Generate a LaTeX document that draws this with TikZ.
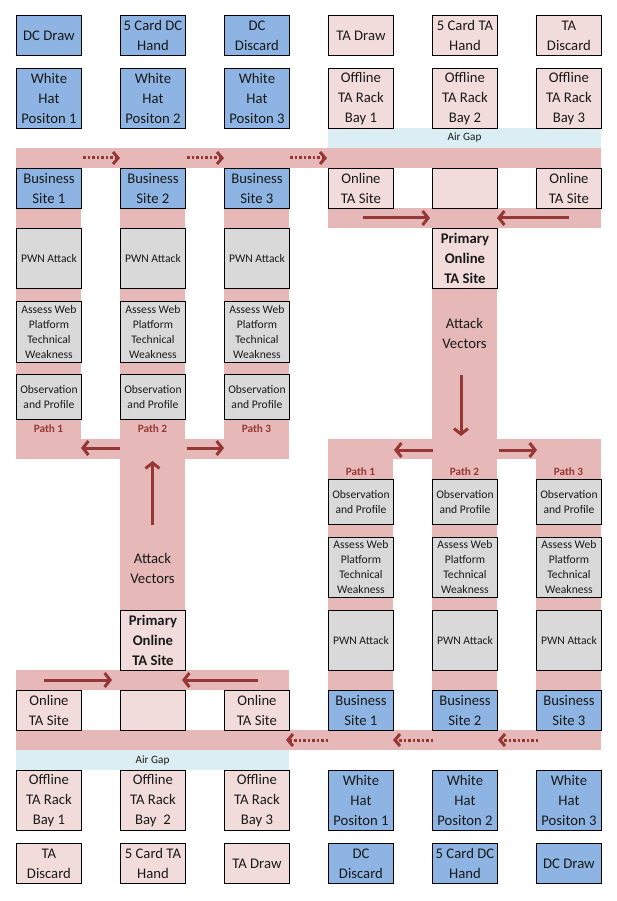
\documentclass[tikz,border=0pt]{standalone}
\usepackage{fontspec}
\setmainfont{Carlito}
\usetikzlibrary{arrows.meta}
\definecolor{bluebox}{HTML}{8DB4E2}
\definecolor{pinkbox}{HTML}{F2DCDB}
\definecolor{graybox}{HTML}{D9D9D9}
\definecolor{bandpink}{HTML}{E6B9B8}
\definecolor{airgap}{HTML}{DAEEF3}
\definecolor{arrowred}{HTML}{953735}
\definecolor{txt}{HTML}{1A1A1A}
\begin{document}
\begin{tikzpicture}[x=1pt,y=-1pt,
  box/.style={draw=black, line width=0.9pt, anchor=north west, minimum width=65pt,
    inner sep=0pt, align=center, text=txt, font=\fontsize{14.7}{20}\selectfont},
  bluenode/.style={box, fill=bluebox},
  pinknode/.style={box, fill=pinkbox},
  graynode/.style={box, fill=graybox, font=\fontsize{11.6}{15}\selectfont},
  h40/.style={minimum height=40pt},
  h45/.style={minimum height=45pt},
  h60/.style={minimum height=60pt},
  h61/.style={minimum height=61pt},
  pathlabel/.style={font=\bfseries\fontsize{11.2}{12}\selectfont, text=arrowred, inner sep=0pt},
  bandtext/.style={font=\fontsize{14.7}{20}\selectfont, text=txt, align=center, inner sep=0pt},
  gaptext/.style={font=\fontsize{11.2}{12}\selectfont, text=txt, inner sep=0pt},
  solidarrow/.style={draw=arrowred, line width=3pt, -{Straight Barb[length=5.5pt,width=14pt]}},
  dotarrow/.style={draw=arrowred, line width=3pt, dash pattern=on 2.5pt off 2pt, -{Straight Barb[length=5pt,width=12pt]}}
]
\useasboundingbox (0,0) rectangle (616,901);
\fill[white] (0,0) rectangle (616,901);

% ---- bands ----
\fill[bandpink] (16,148) rectangle (601,168);
\fill[airgap] (328,128) rectangle (601,148);
\foreach \x in {16,120,224} \fill[bandpink] (\x,168) rectangle ++(65,291);
\fill[bandpink] (16,439) rectangle (289,459);
\fill[bandpink] (120,459) rectangle (185,610);
\fill[bandpink] (16,670) rectangle (289,690);
\fill[bandpink] (328,208) rectangle (601,228);
\fill[bandpink] (432,228) rectangle (497,439);
\fill[bandpink] (328,439) rectangle (601,459);
\foreach \x in {328,432,536} \fill[bandpink] (\x,459) rectangle ++(65,231);
\fill[bandpink] (16,730) rectangle (601,750);
\fill[airgap] (16,750) rectangle (289,770);

\node[gaptext] (gapT) at (464.5,138) {Air Gap};
\node[gaptext] (gapB) at (152.5,761) {Air Gap};

% ---- top rows ----
\node[bluenode,h40] (dcdrawT) at (16,15) {DC Draw};
\node[bluenode,h40] (dchandT) at (120,15) {5 Card DC\\Hand};
\node[bluenode,h40] (dcdiscT) at (224,15) {DC\\Discard};
\node[pinknode,h40] (tadrawT) at (328,15) {TA Draw};
\node[pinknode,h40] (tahandT) at (432,15) {5 Card TA\\Hand};
\node[pinknode,h40] (tadiscT) at (536,15) {TA\\Discard};

\node[bluenode,h60] (wh1T) at (16,68) {White\\Hat\\Positon 1};
\node[bluenode,h60] (wh2T) at (120,68) {White\\Hat\\Positon 2};
\node[bluenode,h60] (wh3T) at (224,68) {White\\Hat\\Positon 3};
\node[pinknode,h60] (rk1T) at (328,68) {Offline\\TA Rack\\Bay 1};
\node[pinknode,h60] (rk2T) at (432,68) {Offline\\TA Rack\\Bay 2};
\node[pinknode,h60] (rk3T) at (536,68) {Offline\\TA Rack\\Bay 3};

\node[bluenode,h40] (bs1T) at (16,168) {Business\\Site 1};
\node[bluenode,h40] (bs2T) at (120,168) {Business\\Site 2};
\node[bluenode,h40] (bs3T) at (224,168) {Business\\Site 3};
\node[pinknode,h40] (ot1T) at (328,168) {Online\\TA Site};
\node[pinknode,h40] (ot2T) at (432,168) {};
\node[pinknode,h40] (ot3T) at (536,168) {Online\\TA Site};

% ---- left attack columns ----
\foreach \x/\n in {16/1,120/2,224/3} {
  \node[graynode,h60] (pwnL\n) at (\x,228) {PWN Attack};
  \node[graynode,h61] (awL\n) at (\x,301) {Assess Web\\Platform\\Technical\\Weakness};
  \node[graynode,h45] (obL\n) at (\x,374) {Observation\\and Profile};
  \node[pathlabel] (pathL\n) at (\x+32.5,429) {Path \n};
}
\node[pinknode,h60,font=\bfseries\fontsize{14.7}{20}\selectfont] (primT) at (432,228) {Primary\\Online\\TA Site};
\node[bandtext] (avR) at (464.5,333) {Attack\\Vectors};

% ---- right attack columns ----
\foreach \x/\n in {328/1,432/2,536/3} {
  \node[pathlabel] (pathR\n) at (\x+32.5,472) {Path \n};
  \node[graynode,h45] (obR\n) at (\x,479) {Observation\\and Profile};
  \node[graynode,h60] (awR\n) at (\x,537) {Assess Web\\Platform\\Technical\\Weakness};
  \node[graynode,h60] (pwnR\n) at (\x,610) {PWN Attack};
}
\node[bandtext] (avL) at (152.5,568) {Attack\\Vectors};
\node[pinknode,h60,font=\bfseries\fontsize{14.7}{20}\selectfont] (primB) at (120,610) {Primary\\Online\\TA Site};

% ---- bottom rows ----
\node[pinknode,h40] (ot1B) at (16,690) {Online\\TA Site};
\node[pinknode,h40] (ot2B) at (120,690) {};
\node[pinknode,h40] (ot3B) at (224,690) {Online\\TA Site};
\node[bluenode,h40] (bs1B) at (328,690) {Business\\Site 1};
\node[bluenode,h40] (bs2B) at (432,690) {Business\\Site 2};
\node[bluenode,h40] (bs3B) at (536,690) {Business\\Site 3};

\node[pinknode,h60] (rk1B) at (16,770) {Offline\\TA Rack\\Bay 1};
\node[pinknode,h60] (rk2B) at (120,770) {Offline\\TA Rack\\Bay\ \ 2};
\node[pinknode,h60] (rk3B) at (224,770) {Offline\\TA Rack\\Bay 3};
\node[bluenode,h60] (wh1B) at (328,770) {White\\Hat\\Positon 1};
\node[bluenode,h60] (wh2B) at (432,770) {White\\Hat\\Positon 2};
\node[bluenode,h60] (wh3B) at (536,770) {White\\Hat\\Positon 3};

\node[pinknode,h40] (tadiscB) at (16,843) {TA\\Discard};
\node[pinknode,h40] (tahandB) at (120,843) {5 Card TA\\Hand};
\node[pinknode,h40] (tadrawB) at (224,843) {TA Draw};
\node[bluenode,h40] (dcdiscB) at (328,843) {DC\\Discard};
\node[bluenode,h40] (dchandB) at (432,843) {5 Card DC\\Hand};
\node[bluenode,h40] (dcdrawB) at (536,843) {DC Draw};

% ---- arrow end points ----
\coordinate (dT1a) at (83,158);  \coordinate (dT1b) at (120,158);
\coordinate (dT2a) at (187,158); \coordinate (dT2b) at (224,158);
\coordinate (dT3a) at (290,158); \coordinate (dT3b) at (327,158);
\coordinate (dB1a) at (328,740); \coordinate (dB1b) at (286,740);
\coordinate (dB2a) at (433,740); \coordinate (dB2b) at (393,740);
\coordinate (dB3a) at (538,740); \coordinate (dB3b) at (498,740);

\coordinate (sR1a) at (363,218); \coordinate (sR1b) at (430,218);
\coordinate (sR2a) at (569,218); \coordinate (sR2b) at (497,218);
\coordinate (vRa) at (461,375);  \coordinate (vRb) at (461,436);
\coordinate (bR1a) at (433,450); \coordinate (bR1b) at (394,450);
\coordinate (bR2a) at (499,450); \coordinate (bR2b) at (537,450);

\coordinate (vLa) at (152.5,525); \coordinate (vLb) at (152.5,461);
\coordinate (bL1a) at (120,448); \coordinate (bL1b) at (81,448);
\coordinate (bL2a) at (187,448); \coordinate (bL2b) at (224,448);
\coordinate (sL1a) at (44,680);  \coordinate (sL1b) at (112,680);
\coordinate (sL2a) at (258,680); \coordinate (sL2b) at (182,680);

\foreach \p in {dT1,dT2,dT3,dB1,dB2,dB3} \draw[dotarrow] (\p a) -- (\p b);
\foreach \p in {sR1,sR2,vR,bR1,bR2,vL,bL1,bL2,sL1,sL2} \draw[solidarrow] (\p a) -- (\p b);
\end{tikzpicture}
\end{document}
